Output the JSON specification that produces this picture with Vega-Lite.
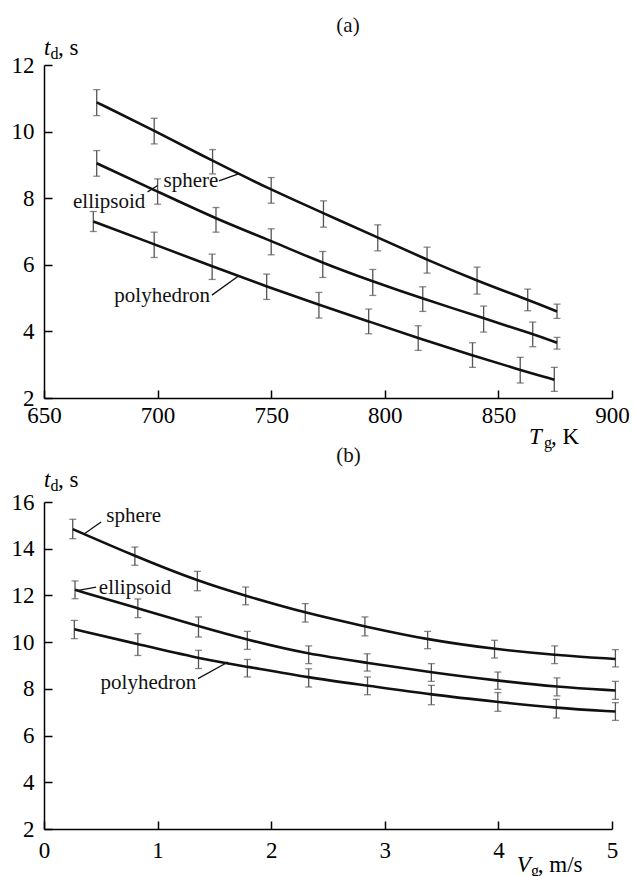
{
  "$schema": "https://vega.github.io/schema/vega-lite/v6.json",
  "padding": {"left": 11, "top": 15, "right": 5, "bottom": 5},
  "background": "white",
  "config": {
    "view": {"stroke": null},
    "axis": {
      "grid": false, "domainColor": "black", "domainWidth": 1.5, "tickColor": "black", "tickWidth": 1.5,
      "tickSize": -8, "labelPadding": 18, "labelFont": "Liberation Serif", "labelFontSize": 23,
      "labelColor": "black", "labelFlush": false, "labelOverlap": false
    }
  },
  "datasets": {
    "a_pts": [
      {"shape": "sphere", "x": 673.2, "y": 10.88, "lo": 10.48, "hi": 11.26},
      {"shape": "sphere", "x": 698.5, "y": 10.03, "lo": 9.63, "hi": 10.40},
      {"shape": "sphere", "x": 724.2, "y": 9.12, "lo": 8.73, "hi": 9.46},
      {"shape": "sphere", "x": 750.0, "y": 8.25, "lo": 7.85, "hi": 8.62},
      {"shape": "sphere", "x": 773.0, "y": 7.55, "lo": 7.13, "hi": 7.92},
      {"shape": "sphere", "x": 796.9, "y": 6.82, "lo": 6.42, "hi": 7.20},
      {"shape": "sphere", "x": 818.6, "y": 6.15, "lo": 5.75, "hi": 6.53},
      {"shape": "sphere", "x": 840.6, "y": 5.52, "lo": 5.12, "hi": 5.93},
      {"shape": "sphere", "x": 862.9, "y": 4.95, "lo": 4.62, "hi": 5.27},
      {"shape": "sphere", "x": 875.8, "y": 4.60, "lo": 4.39, "hi": 4.82},
      {"shape": "ellipsoid", "x": 673.2, "y": 9.05, "lo": 8.66, "hi": 9.43},
      {"shape": "ellipsoid", "x": 700.0, "y": 8.20, "lo": 7.82, "hi": 8.58},
      {"shape": "ellipsoid", "x": 725.7, "y": 7.38, "lo": 6.98, "hi": 7.72},
      {"shape": "ellipsoid", "x": 750.0, "y": 6.72, "lo": 6.30, "hi": 7.08},
      {"shape": "ellipsoid", "x": 772.7, "y": 6.05, "lo": 5.62, "hi": 6.40},
      {"shape": "ellipsoid", "x": 794.7, "y": 5.50, "lo": 5.08, "hi": 5.86},
      {"shape": "ellipsoid", "x": 816.7, "y": 4.98, "lo": 4.60, "hi": 5.34},
      {"shape": "ellipsoid", "x": 843.5, "y": 4.40, "lo": 3.98, "hi": 4.76},
      {"shape": "ellipsoid", "x": 865.1, "y": 3.92, "lo": 3.54, "hi": 4.28},
      {"shape": "ellipsoid", "x": 875.8, "y": 3.66, "lo": 3.47, "hi": 3.82},
      {"shape": "polyhedron", "x": 671.7, "y": 7.30, "lo": 7.00, "hi": 7.60},
      {"shape": "polyhedron", "x": 698.5, "y": 6.62, "lo": 6.22, "hi": 6.98},
      {"shape": "polyhedron", "x": 724.0, "y": 5.95, "lo": 5.56, "hi": 6.32},
      {"shape": "polyhedron", "x": 748.0, "y": 5.35, "lo": 4.96, "hi": 5.72},
      {"shape": "polyhedron", "x": 771.0, "y": 4.80, "lo": 4.40, "hi": 5.17},
      {"shape": "polyhedron", "x": 792.9, "y": 4.30, "lo": 3.93, "hi": 4.67},
      {"shape": "polyhedron", "x": 814.7, "y": 3.80, "lo": 3.43, "hi": 4.17},
      {"shape": "polyhedron", "x": 838.6, "y": 3.28, "lo": 2.92, "hi": 3.66},
      {"shape": "polyhedron", "x": 859.6, "y": 2.84, "lo": 2.45, "hi": 3.22},
      {"shape": "polyhedron", "x": 874.6, "y": 2.55, "lo": 2.20, "hi": 2.92}
    ],
    "a_labels": [
      {"x": 714.7, "y": 8.34, "text": "sphere"},
      {"x": 678.7, "y": 7.71, "text": "ellipsoid"},
      {"x": 702.0, "y": 4.87, "text": "polyhedron"},
      {"x": 783.8, "y": 12.99, "text": "(a)"}
    ],
    "a_leaders": [
      {"x": 727.0, "y": 8.52, "x2": 735.9, "y2": 8.74},
      {"x": 695.6, "y": 8.19, "x2": 700.0, "y2": 8.38},
      {"x": 723.9, "y": 5.09, "x2": 735.3, "y2": 5.65}
    ],
    "a_titles": [
      {"x": 650.0, "y": 12.3, "text": "t", "part": "main"},
      {"x": 652.86, "y": 12.18, "text": "d", "part": "sub"},
      {"x": 656.16, "y": 12.3, "text": ", s", "part": "rest"},
      {"x": 863.47, "y": 0.619, "text": "T", "part": "main"},
      {"x": 870.07, "y": 0.498, "text": "g", "part": "sub"},
      {"x": 873.15, "y": 0.619, "text": ", K", "part": "rest"}
    ],
    "b_pts": [
      {"shape": "sphere", "x": 0.253, "y": 14.84, "lo": 14.43, "hi": 15.26},
      {"shape": "sphere", "x": 0.800, "y": 13.68, "lo": 13.29, "hi": 14.07},
      {"shape": "sphere", "x": 1.350, "y": 12.62, "lo": 12.20, "hi": 13.03},
      {"shape": "sphere", "x": 1.775, "y": 11.98, "lo": 11.60, "hi": 12.36},
      {"shape": "sphere", "x": 2.300, "y": 11.25, "lo": 10.86, "hi": 11.65},
      {"shape": "sphere", "x": 2.825, "y": 10.67, "lo": 10.27, "hi": 11.08},
      {"shape": "sphere", "x": 3.377, "y": 10.10, "lo": 9.72, "hi": 10.46},
      {"shape": "sphere", "x": 3.966, "y": 9.70, "lo": 9.32, "hi": 10.08},
      {"shape": "sphere", "x": 4.495, "y": 9.45, "lo": 9.08, "hi": 9.84},
      {"shape": "sphere", "x": 5.030, "y": 9.28, "lo": 8.94, "hi": 9.68},
      {"shape": "ellipsoid", "x": 0.273, "y": 12.24, "lo": 11.86, "hi": 12.62},
      {"shape": "ellipsoid", "x": 0.826, "y": 11.45, "lo": 11.05, "hi": 11.85},
      {"shape": "ellipsoid", "x": 1.360, "y": 10.68, "lo": 10.22, "hi": 11.08},
      {"shape": "ellipsoid", "x": 1.790, "y": 10.10, "lo": 9.69, "hi": 10.46},
      {"shape": "ellipsoid", "x": 2.330, "y": 9.48, "lo": 9.08, "hi": 9.84},
      {"shape": "ellipsoid", "x": 2.845, "y": 9.12, "lo": 8.76, "hi": 9.50},
      {"shape": "ellipsoid", "x": 3.410, "y": 8.70, "lo": 8.32, "hi": 9.08},
      {"shape": "ellipsoid", "x": 3.995, "y": 8.35, "lo": 7.98, "hi": 8.72},
      {"shape": "ellipsoid", "x": 4.515, "y": 8.08, "lo": 7.70, "hi": 8.47},
      {"shape": "ellipsoid", "x": 5.030, "y": 7.93, "lo": 7.55, "hi": 8.32},
      {"shape": "polyhedron", "x": 0.267, "y": 10.55, "lo": 10.15, "hi": 10.93},
      {"shape": "polyhedron", "x": 0.826, "y": 9.92, "lo": 9.43, "hi": 10.36},
      {"shape": "polyhedron", "x": 1.360, "y": 9.30, "lo": 8.87, "hi": 9.65},
      {"shape": "polyhedron", "x": 1.790, "y": 8.95, "lo": 8.51, "hi": 9.26},
      {"shape": "polyhedron", "x": 2.330, "y": 8.48, "lo": 8.08, "hi": 8.86},
      {"shape": "polyhedron", "x": 2.848, "y": 8.14, "lo": 7.75, "hi": 8.51},
      {"shape": "polyhedron", "x": 3.410, "y": 7.75, "lo": 7.32, "hi": 8.15},
      {"shape": "polyhedron", "x": 3.995, "y": 7.44, "lo": 7.04, "hi": 7.84},
      {"shape": "polyhedron", "x": 4.510, "y": 7.18, "lo": 6.75, "hi": 7.55},
      {"shape": "polyhedron", "x": 5.030, "y": 7.03, "lo": 6.65, "hi": 7.41}
    ],
    "b_labels": [
      {"x": 0.789, "y": 15.15, "text": "sphere"},
      {"x": 0.801, "y": 12.07, "text": "ellipsoid"},
      {"x": 0.919, "y": 7.98, "text": "polyhedron"},
      {"x": 2.681, "y": 17.73, "text": "(b)"}
    ],
    "b_leaders": [
      {"x": 0.503, "y": 15.14, "x2": 0.355, "y2": 14.64},
      {"x": 0.459, "y": 12.36, "x2": 0.302, "y2": 12.22},
      {"x": 1.355, "y": 8.44, "x2": 1.620, "y2": 9.15}
    ],
    "b_titles": [
      {"x": 0.0, "y": 16.655, "text": "t", "part": "main"},
      {"x": 0.0573, "y": 16.48, "text": "d", "part": "sub"},
      {"x": 0.1235, "y": 16.655, "text": ", s", "part": "rest"},
      {"x": 4.162, "y": 0.16, "text": "V", "part": "main"},
      {"x": 4.286, "y": -0.01, "text": "g", "part": "sub"},
      {"x": 4.347, "y": 0.16, "text": ", m/s", "part": "rest"}
    ]
  },
  "vconcat": [
    {
      "width": 568, "height": 333,
      "layer": [
        {
          "data": {"name": "a_pts"},
          "mark": {"type": "rule", "color": "#555", "strokeWidth": 1.3},
          "encoding": {
            "x": {"field": "x", "type": "quantitative", "title": null, "scale": {"domain": [650, 900], "nice": false, "zero": false}, "axis": {"values": [650, 700, 750, 800, 850, 900], "labelPadding": 14, "labelFont": "Liberation Serif", "labelFontSize": 23}},
            "y": {"field": "lo", "type": "quantitative", "title": null, "scale": {"domain": [2, 12], "nice": false, "zero": false}, "axis": {"values": [2, 4, 6, 8, 10, 12], "labelFont": "Liberation Serif", "labelFontSize": 23}},
            "y2": {"field": "hi"}
          }
        },
        {
          "data": {"name": "a_pts"},
          "mark": {"type": "tick", "orient": "horizontal", "size": 7, "thickness": 1.3, "color": "#555"},
          "encoding": {
            "x": {"field": "x", "type": "quantitative", "title": null, "scale": {"domain": [650, 900], "nice": false, "zero": false}},
            "y": {"field": "lo", "type": "quantitative", "title": null, "scale": {"domain": [2, 12], "nice": false, "zero": false}}
          }
        },
        {
          "data": {"name": "a_pts"},
          "mark": {"type": "tick", "orient": "horizontal", "size": 7, "thickness": 1.3, "color": "#555"},
          "encoding": {
            "x": {"field": "x", "type": "quantitative", "title": null, "scale": {"domain": [650, 900], "nice": false, "zero": false}},
            "y": {"field": "hi", "type": "quantitative", "title": null, "scale": {"domain": [2, 12], "nice": false, "zero": false}}
          }
        },
        {
          "data": {"name": "a_pts"},
          "mark": {"type": "line", "color": "#111", "strokeWidth": 2.6, "interpolate": "basis"},
          "encoding": {
            "x": {"field": "x", "type": "quantitative", "title": null, "scale": {"domain": [650, 900], "nice": false, "zero": false}},
            "y": {"field": "y", "type": "quantitative", "title": null, "scale": {"domain": [2, 12], "nice": false, "zero": false}},
            "detail": {"field": "shape"}
          }
        },
        {
          "data": {"name": "a_leaders"},
          "mark": {"type": "rule", "color": "#111", "strokeWidth": 1.3},
          "encoding": {
            "x": {"field": "x", "type": "quantitative", "title": null, "scale": {"domain": [650, 900], "nice": false, "zero": false}},
            "y": {"field": "y", "type": "quantitative", "title": null, "scale": {"domain": [2, 12], "nice": false, "zero": false}},
            "x2": {"field": "x2"},
            "y2": {"field": "y2"}
          }
        },
        {
          "data": {"name": "a_labels"},
          "mark": {"type": "text", "font": "Liberation Serif", "fontSize": 21, "color": "#111", "align": "center", "baseline": "alphabetic"},
          "encoding": {
            "x": {"field": "x", "type": "quantitative", "title": null, "scale": {"domain": [650, 900], "nice": false, "zero": false}},
            "y": {"field": "y", "type": "quantitative", "title": null, "scale": {"domain": [2, 12], "nice": false, "zero": false}},
            "text": {"field": "text"}
          }
        },
        {
          "data": {"name": "a_titles"},
          "transform": [{"filter": "datum.part == 'main'"}],
          "mark": {"type": "text", "font": "Liberation Serif", "fontStyle": "italic", "fontSize": 23, "color": "black", "align": "left", "baseline": "alphabetic"},
          "encoding": {
            "x": {"field": "x", "type": "quantitative", "title": null, "scale": {"domain": [650, 900], "nice": false, "zero": false}},
            "y": {"field": "y", "type": "quantitative", "title": null, "scale": {"domain": [2, 12], "nice": false, "zero": false}},
            "text": {"field": "text"}
          }
        },
        {
          "data": {"name": "a_titles"},
          "transform": [{"filter": "datum.part == 'sub'"}],
          "mark": {"type": "text", "font": "Liberation Serif", "fontSize": 16, "color": "black", "align": "left", "baseline": "alphabetic"},
          "encoding": {
            "x": {"field": "x", "type": "quantitative", "title": null, "scale": {"domain": [650, 900], "nice": false, "zero": false}},
            "y": {"field": "y", "type": "quantitative", "title": null, "scale": {"domain": [2, 12], "nice": false, "zero": false}},
            "text": {"field": "text"}
          }
        },
        {
          "data": {"name": "a_titles"},
          "transform": [{"filter": "datum.part == 'rest'"}],
          "mark": {"type": "text", "font": "Liberation Serif", "fontSize": 23, "color": "black", "align": "left", "baseline": "alphabetic"},
          "encoding": {
            "x": {"field": "x", "type": "quantitative", "title": null, "scale": {"domain": [650, 900], "nice": false, "zero": false}},
            "y": {"field": "y", "type": "quantitative", "title": null, "scale": {"domain": [2, 12], "nice": false, "zero": false}},
            "text": {"field": "text"}
          }
        }
      ]
    },
    {
      "width": 568, "height": 327,
      "layer": [
        {
          "data": {"name": "b_pts"},
          "mark": {"type": "rule", "color": "#555", "strokeWidth": 1.3},
          "encoding": {
            "x": {"field": "x", "type": "quantitative", "title": null, "scale": {"domain": [0, 5], "nice": false, "zero": false}, "axis": {"values": [0, 1, 2, 3, 4, 5], "format": "d", "labelPadding": 18, "labelFont": "Liberation Serif", "labelFontSize": 23}},
            "y": {"field": "lo", "type": "quantitative", "title": null, "scale": {"domain": [2, 16], "nice": false, "zero": false}, "axis": {"values": [2, 4, 6, 8, 10, 12, 14, 16], "labelFont": "Liberation Serif", "labelFontSize": 23}},
            "y2": {"field": "hi"}
          }
        },
        {
          "data": {"name": "b_pts"},
          "mark": {"type": "tick", "orient": "horizontal", "size": 7, "thickness": 1.3, "color": "#555"},
          "encoding": {
            "x": {"field": "x", "type": "quantitative", "title": null, "scale": {"domain": [0, 5], "nice": false, "zero": false}},
            "y": {"field": "lo", "type": "quantitative", "title": null, "scale": {"domain": [2, 16], "nice": false, "zero": false}}
          }
        },
        {
          "data": {"name": "b_pts"},
          "mark": {"type": "tick", "orient": "horizontal", "size": 7, "thickness": 1.3, "color": "#555"},
          "encoding": {
            "x": {"field": "x", "type": "quantitative", "title": null, "scale": {"domain": [0, 5], "nice": false, "zero": false}},
            "y": {"field": "hi", "type": "quantitative", "title": null, "scale": {"domain": [2, 16], "nice": false, "zero": false}}
          }
        },
        {
          "data": {"name": "b_pts"},
          "mark": {"type": "line", "color": "#111", "strokeWidth": 2.6, "interpolate": "basis"},
          "encoding": {
            "x": {"field": "x", "type": "quantitative", "title": null, "scale": {"domain": [0, 5], "nice": false, "zero": false}},
            "y": {"field": "y", "type": "quantitative", "title": null, "scale": {"domain": [2, 16], "nice": false, "zero": false}},
            "detail": {"field": "shape"}
          }
        },
        {
          "data": {"name": "b_leaders"},
          "mark": {"type": "rule", "color": "#111", "strokeWidth": 1.3},
          "encoding": {
            "x": {"field": "x", "type": "quantitative", "title": null, "scale": {"domain": [0, 5], "nice": false, "zero": false}},
            "y": {"field": "y", "type": "quantitative", "title": null, "scale": {"domain": [2, 16], "nice": false, "zero": false}},
            "x2": {"field": "x2"},
            "y2": {"field": "y2"}
          }
        },
        {
          "data": {"name": "b_labels"},
          "mark": {"type": "text", "font": "Liberation Serif", "fontSize": 21, "color": "#111", "align": "center", "baseline": "alphabetic"},
          "encoding": {
            "x": {"field": "x", "type": "quantitative", "title": null, "scale": {"domain": [0, 5], "nice": false, "zero": false}},
            "y": {"field": "y", "type": "quantitative", "title": null, "scale": {"domain": [2, 16], "nice": false, "zero": false}},
            "text": {"field": "text"}
          }
        },
        {
          "data": {"name": "b_titles"},
          "transform": [{"filter": "datum.part == 'main'"}],
          "mark": {"type": "text", "font": "Liberation Serif", "fontStyle": "italic", "fontSize": 23, "color": "black", "align": "left", "baseline": "alphabetic"},
          "encoding": {
            "x": {"field": "x", "type": "quantitative", "title": null, "scale": {"domain": [0, 5], "nice": false, "zero": false}},
            "y": {"field": "y", "type": "quantitative", "title": null, "scale": {"domain": [2, 16], "nice": false, "zero": false}},
            "text": {"field": "text"}
          }
        },
        {
          "data": {"name": "b_titles"},
          "transform": [{"filter": "datum.part == 'sub'"}],
          "mark": {"type": "text", "font": "Liberation Serif", "fontSize": 16, "color": "black", "align": "left", "baseline": "alphabetic"},
          "encoding": {
            "x": {"field": "x", "type": "quantitative", "title": null, "scale": {"domain": [0, 5], "nice": false, "zero": false}},
            "y": {"field": "y", "type": "quantitative", "title": null, "scale": {"domain": [2, 16], "nice": false, "zero": false}},
            "text": {"field": "text"}
          }
        },
        {
          "data": {"name": "b_titles"},
          "transform": [{"filter": "datum.part == 'rest'"}],
          "mark": {"type": "text", "font": "Liberation Serif", "fontSize": 23, "color": "black", "align": "left", "baseline": "alphabetic"},
          "encoding": {
            "x": {"field": "x", "type": "quantitative", "title": null, "scale": {"domain": [0, 5], "nice": false, "zero": false}},
            "y": {"field": "y", "type": "quantitative", "title": null, "scale": {"domain": [2, 16], "nice": false, "zero": false}},
            "text": {"field": "text"}
          }
        }
      ]
    }
  ],
  "spacing": 104,
  "bounds": "flush"
}
